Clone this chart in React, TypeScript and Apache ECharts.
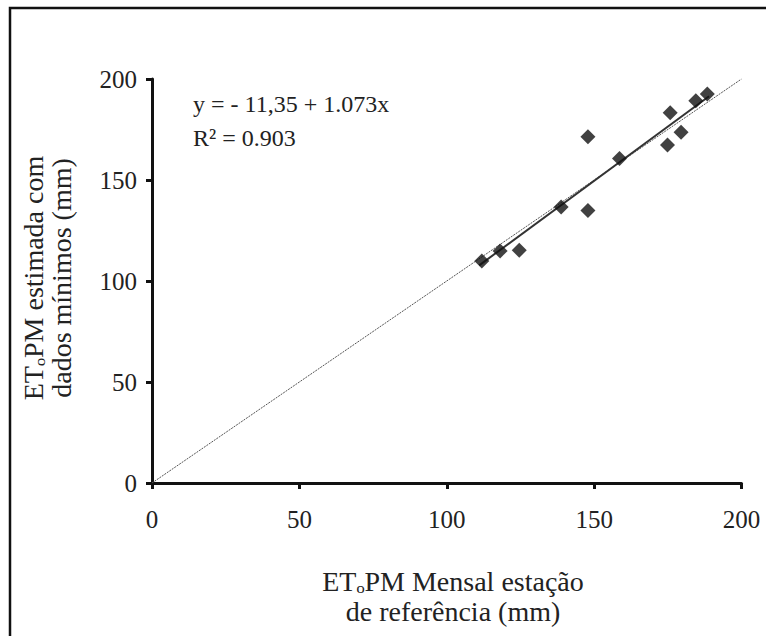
import React, { useEffect, useRef } from "react";
import * as echarts from "echarts";

const xValues = [111.9, 118.1, 124.6, 138.8, 147.9, 147.9, 158.6, 174.9, 175.8, 179.5, 184.5, 188.4];
const yValues = [109.9, 114.9, 115.2, 136.6, 134.9, 171.4, 160.7, 167.3, 183.3, 173.6, 189.2, 192.6];
const axisTicks = [0, 50, 100, 150, 200];
const intercept = -11.35;
const slope = 1.073;
const fitRange = [111, 189];
const equationText = "y = - 11,35 + 1.073x";
const r2Text = "R² = 0.903";
const yTitle = ["ETₒPM estimada com", "dados mínimos (mm)"];
const xTitle = ["ETₒPM Mensal estação", "de referência (mm)"];

const FONT = "'Liberation Serif', 'Times New Roman', serif";

export default function App() {
  const ref = useRef<HTMLDivElement>(null);
  useEffect(() => {
    if (!ref.current) return;
    const chart = echarts.init(ref.current, null, { renderer: "svg" });
    const points = xValues.map((x, i) => [x, yValues[i]]);
    const fit = fitRange.map((x) => [x, intercept + slope * x]);
    const oneToOne = [
      [axisTicks[0], axisTicks[0]],
      [axisTicks[axisTicks.length - 1], axisTicks[axisTicks.length - 1]],
    ];
    const axisCommon = {
      type: "value" as const,
      min: 0,
      max: 200,
      interval: 50,
      splitLine: { show: false },
      axisLine: { show: true, onZero: false, lineStyle: { color: "#111", width: 3 } },
      axisTick: { show: true, inside: false, length: 6, lineStyle: { color: "#111", width: 3 } },
      axisLabel: { color: "#222", fontFamily: FONT, fontSize: 25 },
    };
    const txt = (text: string, x: number, y: number, size: number, align: string, extra: any = {}) => ({
      type: "text",
      x,
      y,
      ...extra,
      style: {
        text,
        fontFamily: FONT,
        fontSize: size,
        fill: "#222",
        align,
        verticalAlign: "middle",
      },
    });
    chart.setOption({
      animation: false,
      backgroundColor: "#fff",
      textStyle: { fontFamily: FONT },
      grid: { left: 152, right: 24.5, top: 79, bottom: 153 },
      xAxis: { ...axisCommon, axisLabel: { ...axisCommon.axisLabel, margin: 24 } },
      yAxis: { ...axisCommon, axisLabel: { ...axisCommon.axisLabel, margin: 15 } },
      series: [
        {
          type: "line",
          data: oneToOne,
          symbol: "none",
          lineStyle: { color: "#555", width: 1, type: [2, 1] },
          z: 1,
        },
        {
          type: "line",
          data: fit,
          symbol: "none",
          lineStyle: { color: "#333", width: 2 },
          z: 2,
        },
        {
          type: "scatter",
          data: points,
          symbol: "diamond",
          symbolSize: 15,
          itemStyle: { color: "#111" },
          z: 3,
        },
      ],
      graphic: [
        {
          type: "rect",
          shape: { x: 10, y: 8, width: 800, height: 700 },
          style: { fill: "none", stroke: "#111", lineWidth: 2.5 },
          silent: true,
        },
        txt(equationText, 193, 104, 24, "left"),
        txt(r2Text, 193, 138, 24, "left"),
        txt(yTitle[0], 33, 278, 28, "center", { rotation: Math.PI / 2 }),
        txt(yTitle[1], 61, 278, 28, "center", { rotation: Math.PI / 2 }),
        txt(xTitle[0], 453, 581, 28, "center"),
        txt(xTitle[1], 453, 611, 28, "center"),
      ],
    });
    return () => chart.dispose();
  }, []);
  return (
    <div
      ref={ref}
      style={{ position: "fixed", left: 0, top: 0, width: 766, height: 636, background: "#fff" }}
    />
  );
}
